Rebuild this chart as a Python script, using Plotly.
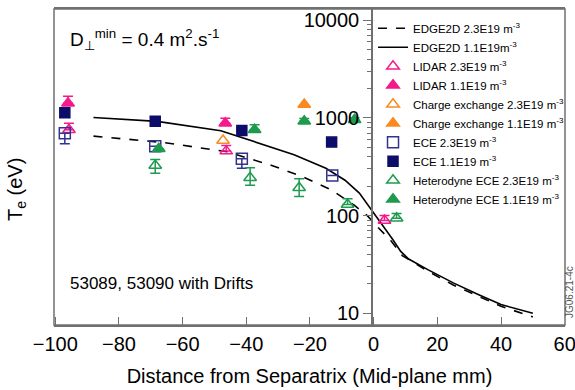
import math
import plotly.graph_objects as go

# ---------------- data ----------------
# EDGE2D simulations
edge23_name = "EDGE2D 2.3E19 m<sup>-3</sup>"
edge23_x = [-88, -66, -46, -32, -22, -13, -6, -2, 1, 5.5, 9, 12, 17, 25, 33, 40, 50]
edge23_te = [650, 560, 450, 326, 248, 181, 127, 100, 78, 55, 39, 34, 27, 19.5, 14.8, 11.8, 9.2]

edge11_name = "EDGE2D 1.1E19m<sup>-3</sup>"
edge11_x = [-88, -68, -48, -32, -25, -15, -9, -4.5, -0.5, 3, 6, 8.5, 11, 17, 25, 33, 40, 50]
edge11_te = [1010, 920, 740, 500, 420, 305, 230, 170, 112, 80, 57, 43, 36, 28, 20.5, 15.5, 12.3, 10]

# LIDAR
lidar23_name = "LIDAR 2.3E19 m<sup>-3</sup>"
lidar23_x = [-95.7, -46.3, 3.4]
lidar23_te = [755, 457, 89]
lidar23_up = [128, 65, 11]

lidar11_name = "LIDAR 1.1E19 m<sup>-3</sup>"
lidar11_x = [-96, -46.6]
lidar11_te = [1410, 883]
lidar11_up = [250, 110]

# Charge exchange
cx23_name = "Charge exchange 2.3E19 m<sup>-3</sup>"
cx23_x = [-47.3]
cx23_te = [587]

cx11_name = "Charge exchange 1.1E19 m<sup>-3</sup>"
cx11_x = [-21.8]
cx11_te = [1371]

# ECE
ece23_name = "ECE 2.3E19 m<sup>-3</sup>"
ece23_x = [-97, -68.6, -41.4, -13]
ece23_te = [697, 511, 382, 258]
ece23_down = [154, 0, 76, 0]

ece11_name = "ECE 1.1E19 m<sup>-3</sup>"
ece11_x = [-97, -68.6, -41.4, -13.2]
ece11_te = [1128, 925, 743, 565]

# Heterodyne ECE
het23_name = "Heterodyne ECE 2.3E19 m<sup>-3</sup>"
het23_x = [-68.6, -38.8, -23.4, -8.2, 7.2]
het23_te = [326, 244, 193, 130, 94]
het23_up = [50, 65, 45, 19, 11]
het23_down = [54, 40, 36, 0, 0]

het11_name = "Heterodyne ECE 1.1E19 m<sup>-3</sup>"
het11_x = [-67.5, -37.4, -21.8, -6]
het11_te = [483, 755, 925, 955]
het11_up = [0, 94, 60, 45]

x_ticks = [-100, -80, -60, -40, -20, 0, 20, 40, 60]
y_ticks = [10, 100, 1000, 10000]
y_minor = [m * 10 ** d for d in (1, 2, 3) for m in range(2, 10)]

# ---------------- style ----------------
PINK = "#f5198c"
ORANGE = "#f98a1f"
NAVY_OPEN = "#32328f"
NAVY = "#0c0c6a"
GREEN = "#1f9a4f"
FRAME = "#707070"
FONT = "Liberation Sans, Arial, sans-serif"

fig = go.Figure()

fig.add_trace(go.Scatter(x=edge23_x, y=edge23_te, mode="lines", name=edge23_name,
                         line=dict(color="black", width=1.6, dash="dash")))
fig.add_trace(go.Scatter(x=edge11_x, y=edge11_te, mode="lines", name=edge11_name,
                         line=dict(color="black", width=1.6)))


def err(up=None, down=None, color="black"):
    n = len(up if up is not None else down)
    return dict(type="data", symmetric=False,
                array=up if up is not None else [0] * n,
                arrayminus=down if down is not None else [0] * n,
                color=color, thickness=1.5, width=5)


def pts(x, y, name, symbol, color, size, error=None):
    fig.add_trace(go.Scatter(
        x=x, y=y, mode="markers", name=name,
        marker=dict(symbol=symbol, color=color, size=size,
                    line=dict(color=color, width=1.5)),
        error_y=error if error is not None else dict(visible=False)))


pts(lidar23_x, lidar23_te, lidar23_name, "triangle-up-open", PINK, 11, err(up=lidar23_up, color=PINK))
pts(lidar11_x, lidar11_te, lidar11_name, "triangle-up", PINK, 11, err(up=lidar11_up, color=PINK))
pts(cx23_x, cx23_te, cx23_name, "triangle-up-open", ORANGE, 11)
pts(cx11_x, cx11_te, cx11_name, "triangle-up", ORANGE, 11)
pts(ece23_x, ece23_te, ece23_name, "square-open", NAVY_OPEN, 11, err(down=ece23_down, color=NAVY_OPEN))
pts(ece11_x, ece11_te, ece11_name, "square", NAVY, 10)
pts(het23_x, het23_te, het23_name, "triangle-up-open", GREEN, 11, err(up=het23_up, down=het23_down, color=GREEN))
pts(het11_x, het11_te, het11_name, "triangle-up", GREEN, 11, err(up=het11_up, color=GREEN))

W, H = 575, 390
ML, MR, MT, MB = 54, 10, 9, 65
pw, ph = W - ML - MR, H - MT - MB
yaxis_pos = (372 - ML) / pw


def px_x(px):
    return (px - ML) / pw


def px_y(py):
    return (H - MB - py) / ph


fig.update_layout(
    width=W, height=H,
    margin=dict(l=ML, r=MR, t=MT, b=MB, pad=0, autoexpand=False),
    paper_bgcolor="white", plot_bgcolor="white",
    font=dict(family=FONT, color="black", size=20),
    showlegend=True,
    legend=dict(x=yaxis_pos + 0.002, y=0.985, xanchor="left", yanchor="top",
                bgcolor="rgba(0,0,0,0)", borderwidth=0,
                font=dict(size=11.5, family=FONT), tracegroupgap=0,
                itemwidth=30),
    xaxis=dict(range=[-100.4, 60.1], tickvals=x_ticks, automargin=False,
               ticks="inside", ticklen=8, tickwidth=1.2, tickcolor=FRAME,
               showline=True, linecolor=FRAME, linewidth=1.5, mirror=True,
               showgrid=False, zeroline=False, ticklabeloverflow="allow",
               tickfont=dict(size=20),
               title=dict(text="Distance from Separatrix (Mid-plane mm)",
                          font=dict(size=20), standoff=15)),
    yaxis=dict(type="log", range=[math.log10(7.6), math.log10(13000)],
               anchor="free", position=yaxis_pos, side="left", automargin=False,
               tickvals=y_ticks, ticktext=[str(v) for v in y_ticks],
               ticks="outside", ticklen=8, tickwidth=1.2, tickcolor=FRAME,
               minor=dict(tickvals=y_minor, ticks="outside", ticklen=4,
                          tickcolor=FRAME, tickwidth=1, showgrid=False),
               showline=True, linecolor=FRAME, linewidth=1.5,
               showgrid=False, zeroline=False,
               tickfont=dict(size=20)),
    shapes=[dict(type="rect", xref="paper", yref="paper", x0=0, x1=1, y0=0, y1=1,
                 line=dict(color=FRAME, width=1.5), fillcolor="rgba(0,0,0,0)",
                 layer="above")],
    annotations=[
        dict(text="D<sub>⊥</sub><sup>min</sup> = 0.4 m<sup>2</sup>.s<sup>-1</sup>",
             xref="paper", yref="paper", x=px_x(68), y=px_y(40),
             xanchor="left", yanchor="middle", showarrow=False,
             font=dict(size=19)),
        dict(text="53089, 53090 with Drifts",
             xref="paper", yref="paper", x=px_x(68), y=px_y(283),
             xanchor="left", yanchor="middle", showarrow=False,
             font=dict(size=17)),
        dict(text="JG06.21-4c", textangle=-90,
             xref="paper", yref="paper", x=px_x(569), y=px_y(292),
             xanchor="center", yanchor="middle", showarrow=False,
             font=dict(size=10, color="#555555")),
        dict(text="T<sub>e</sub> (eV)", textangle=-90,
             xref="paper", yref="paper", x=px_x(17), y=px_y(190),
             xanchor="center", yanchor="middle", showarrow=False,
             font=dict(size=20)),
    ],
)

fig.write_html("out.html")
